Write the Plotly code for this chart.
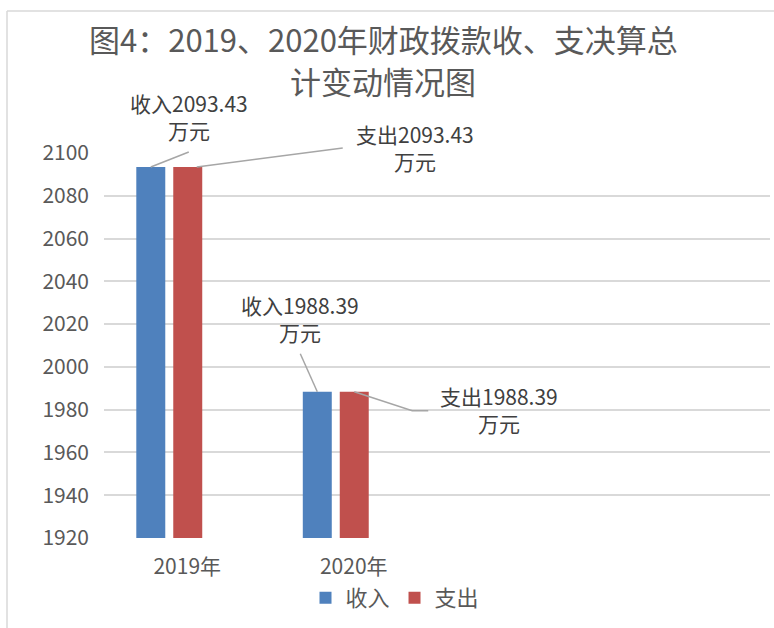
import plotly.graph_objects as go

categories = ["2019年", "2020年"]
income = [2093.43, 1988.39]
expense = [2093.43, 1988.39]
series_names = ["收入", "支出"]
y_ticks = [1920, 1940, 1960, 1980, 2000, 2020, 2040, 2060, 2080, 2100]
title_lines = ["图4：2019、2020年财政拨款收、支决算总", "计变动情况图"]

BLUE = "#4F81BD"
RED = "#C0504D"
TXT = "#595959"
LBL = "#404040"
GRID = "#D9D9D9"
FONT = "Noto Sans CJK SC, Noto Sans, sans-serif"

W, H = 774, 628
L, R, T, B = 104, 4, 153, 90
BW = 0.174
OFF_IN = -0.306
OFF_EX = -0.084
X_RANGE = [-0.5, 3.5]
Y_RANGE = [1920, 2100]

xs = list(range(len(categories)))

fig = go.Figure()
fig.add_trace(go.Bar(name=series_names[0], x=xs, y=[v - Y_RANGE[0] for v in income], base=Y_RANGE[0],
                     width=BW, offset=OFF_IN, marker_color=BLUE, marker_line_width=0))
fig.add_trace(go.Bar(name=series_names[1], x=xs, y=[v - Y_RANGE[0] for v in expense], base=Y_RANGE[0],
                     width=BW, offset=OFF_EX, marker_color=RED, marker_line_width=0))

def x2paper(x):
    return (x - X_RANGE[0]) / (X_RANGE[1] - X_RANGE[0])

def y2paper(y):
    return (y - Y_RANGE[0]) / (Y_RANGE[1] - Y_RANGE[0])

px2x = lambda p: (p - L) / (W - L - R)
py2y = lambda p: (H - B - p) / (H - T - B)

# data labels and leader lines
label_specs = [
    # (series idx, cat idx, text offset px (dx, dy up), leader path in px (y up))
    (0, 0, (38, 51), [(0, 0), (38, 15)]),
    (1, 0, (227, 20), [(9, 0), (155, 19)]),
    (0, 1, (-17, 73), [(0, 0), (-17, 38)]),
    (1, 1, (145, -18), [(0, 0), (58, -19), (74, -19)]),
]
for s, c, (dx, dy), pts in label_specs:
    vals = income if s == 0 else expense
    off = OFF_IN if s == 0 else OFF_EX
    xc = xs[c] + off + BW / 2
    yv = vals[c]
    fig.add_annotation(x=xc, y=yv, xref="x", yref="y", showarrow=False,
                       text=f"{series_names[s]}{yv:.2f}<br>万元", xshift=dx, yshift=dy,
                       font=dict(family=FONT, size=21, color=LBL), align="center")
    path = "M" + " L".join(f"{px},{py}" for px, py in pts)
    fig.add_shape(type="path", xref="paper", yref="paper", xsizemode="pixel", ysizemode="pixel",
                  xanchor=x2paper(xc), yanchor=y2paper(yv), path=path,
                  line=dict(color="#A6A6A6", width=1.5))

# title (two centred lines)
for line, yc in zip(title_lines, [38, 81]):
    fig.add_annotation(x=px2x(383), y=py2y(yc), xref="paper", yref="paper", showarrow=False,
                       xanchor="center", yanchor="middle", text=line,
                       font=dict(family=FONT, size=31, color=TXT))

# outer chart border (left + top)
fig.add_shape(type="line", xref="paper", yref="paper", x0=px2x(7), x1=px2x(7), y0=py2y(11), y1=py2y(640),
              line=dict(color="#D9D9D9", width=1.5))
fig.add_shape(type="line", xref="paper", yref="paper", x0=px2x(7), x1=px2x(780), y0=py2y(11), y1=py2y(11),
              line=dict(color="#D9D9D9", width=1.5))

fig.update_layout(
    width=W, height=H,
    margin=dict(l=L, r=R, t=T, b=B),
    paper_bgcolor="white", plot_bgcolor="white",
    barmode="overlay",
    font=dict(family=FONT, color=TXT, size=21),
    xaxis=dict(range=X_RANGE, tickvals=xs, ticktext=categories, showgrid=False,
               zeroline=False, showline=False, ticks="", ticklabelstandoff=14,
               tickfont=dict(size=21, color=TXT)),
    yaxis=dict(range=Y_RANGE, tickvals=y_ticks, showgrid=True, gridcolor=GRID, gridwidth=1.5,
               zeroline=False, showline=False, ticks="", ticklabelstandoff=14,
               tickfont=dict(size=21, color=TXT)),
    legend=dict(orientation="h", x=px2x(395), xanchor="center", y=py2y(598), yanchor="middle",
                font=dict(size=22, color=TXT), itemwidth=30, traceorder="normal"),
)

fig.write_html("out.html", config={"displayModeBar": False},
               post_script="document.body.style.margin='0';")
